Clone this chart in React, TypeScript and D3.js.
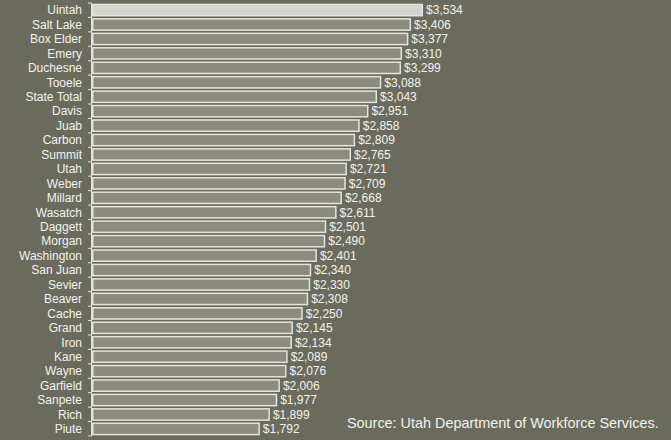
import React from 'react';
import * as d3 from 'd3';

const counties = [
  'Uintah', 'Salt Lake', 'Box Elder', 'Emery', 'Duchesne', 'Tooele', 'State Total', 'Davis',
  'Juab', 'Carbon', 'Summit', 'Utah', 'Weber', 'Millard', 'Wasatch', 'Daggett', 'Morgan',
  'Washington', 'San Juan', 'Sevier', 'Beaver', 'Cache', 'Grand', 'Iron', 'Kane', 'Wayne',
  'Garfield', 'Sanpete', 'Rich', 'Piute',
];
const wages = [
  3534, 3406, 3377, 3310, 3299, 3088, 3043, 2951, 2858, 2809, 2765, 2721, 2709, 2668, 2611,
  2501, 2490, 2401, 2340, 2330, 2308, 2250, 2145, 2134, 2089, 2076, 2006, 1977, 1899, 1792,
];
const highlight = 'Uintah';
const sourceNote = 'Source: Utah Department of Workforce Services.';

const W = 671, H = 440;
const bg = '#6b6b5d';
const textCol = '#f2f2ee';

export default function App() {
  const y = d3.scaleBand<string>().domain(counties).range([3, 436]).paddingInner(0.22).paddingOuter(0.1);
  const x = d3.scaleLinear().domain([0, 4000]).range([92, 466.7]);
  const fmt = (v: number) => '$' + d3.format(',')(v);
  const ticks = d3.range(counties.length + 1).map(i => 3 + i * ((436 - 3) / counties.length));

  return (
    <svg width={W} height={H} style={{ position: 'absolute', left: 0, top: 0 }}
      fontFamily="'Liberation Sans', Arial, sans-serif">
      <rect width={W} height={H} fill={bg} />
      {counties.map((c, i) => {
        const by = y(c)!;
        const bw = x(wages[i]) - x(0);
        const hl = c === highlight;
        return (
          <g key={c}>
            <rect x={x(0) + 0.75} y={by} width={bw - 1.5} height={y.bandwidth()}
              fill={hl ? '#d5d5cf' : '#8c8c7e'} stroke="#e4e4dc" strokeWidth={1.5} />
            <text x={82} y={by + y.bandwidth() / 2} dy="0.36em" textAnchor="end"
              fontSize={12} fill={textCol}>{c}</text>
            <text x={x(wages[i]) + 3} y={by + y.bandwidth() / 2} dy="0.36em"
              fontSize={12} fill={textCol}>{fmt(wages[i])}</text>
          </g>
        );
      })}
      <line x1={91.5} x2={91.5} y1={3} y2={436} stroke="#e4e4dc" strokeWidth={1} />
      {ticks.map((t, i) => (
        <line key={i} x1={88} x2={91.5} y1={t} y2={t} stroke="#e4e4dc" strokeWidth={1} />
      ))}
      <text x={347} y={428} fontSize={14.4} fill={textCol}>{sourceNote}</text>
    </svg>
  );
}
